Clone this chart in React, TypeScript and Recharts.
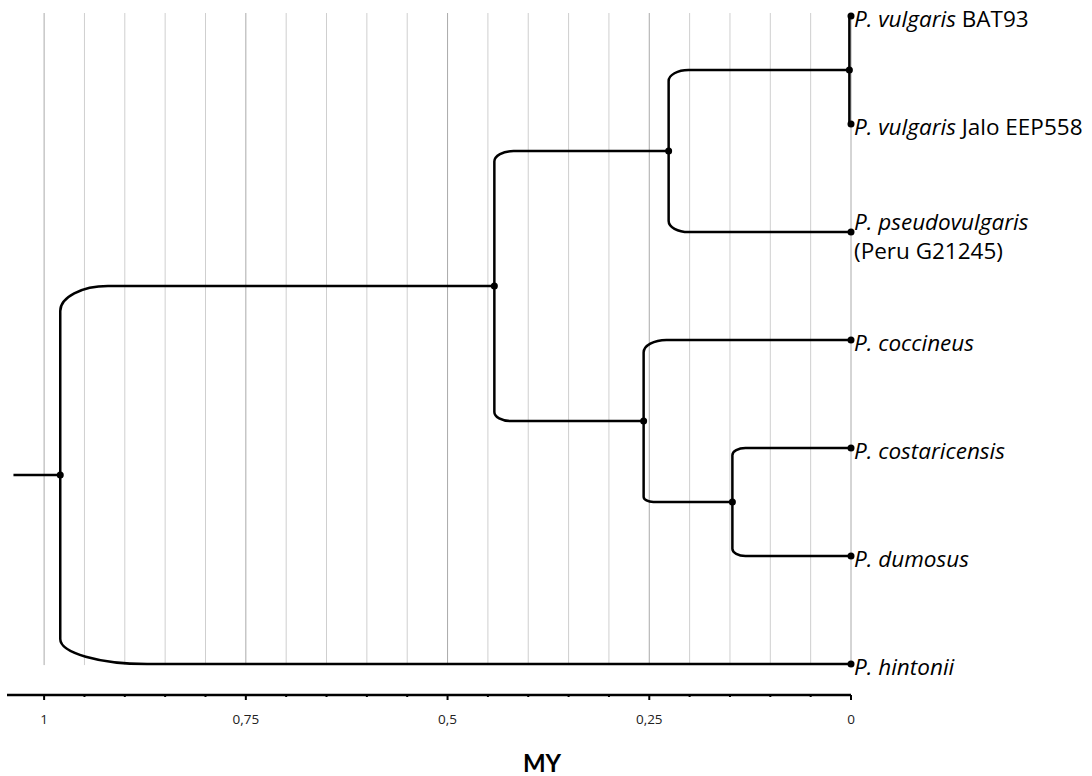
import React from 'react';
import { ComposedChart, Line, Scatter, XAxis, YAxis, ReferenceLine } from 'recharts';

const FONT = 'Lato, "Open Sans", sans-serif';
const LABEL_FONT = '"Open Sans", Lato, sans-serif';

// tips (age 0 = present), row = vertical slot from the top
const tipIds = ['t0', 't1', 't2', 't3', 't4', 't5', 't6'];
const tipNames = ['P. vulgaris', 'P. vulgaris', 'P. pseudovulgaris', 'P. coccineus', 'P. costaricensis', 'P. dumosus', 'P. hintonii'];
const tipSuffix = [' BAT93', ' Jalo EEP558', '', '', '', '', ''];
const tipSecondLine = ['', '', '(Peru G21245)', '', '', '', ''];
const tipAges = [0, 0, 0, 0, 0, 0, 0];
const tipRows = [0, 1, 2, 3, 4, 5, 6];

// internal nodes, age in MY
const nodeIds = ['root', 'A', 'B', 'C', 'D', 'E'];
const nodeAges = [0.98, 0.442, 0.226, 0.002, 0.257, 0.147];
const nodeRows = [4.25, 2.5, 1.25, 0.5, 3.75, 4.5];

const edgeParents = ['root', 'root', 'A', 'A', 'B', 'B', 'C', 'C', 'D', 'D', 'E', 'E'];
const edgeChildren = ['A', 't6', 'B', 'D', 'C', 't2', 't0', 't1', 't3', 'E', 't4', 't5'];

const rootStubAge = 1.038;
const axisMax = 1.046;
const rowTop = -0.028;
const rowBottom = 6.287;
const gridBottom = 6.01;

const majorTicks = [1, 0.75, 0.5, 0.25, 0];
const gridValues = [1, 0.95, 0.9, 0.85, 0.8, 0.75, 0.7, 0.65, 0.6, 0.55, 0.5, 0.45, 0.4, 0.35, 0.3, 0.25, 0.2, 0.15, 0.1, 0.05, 0];

const pos: Record<string, { x: number; y: number }> = {};
tipIds.forEach((id, i) => (pos[id] = { x: tipAges[i], y: tipRows[i] }));
nodeIds.forEach((id, i) => (pos[id] = { x: nodeAges[i], y: nodeRows[i] }));

const edges = edgeParents.map((p, i) => {
  const a = pos[p];
  const b = pos[edgeChildren[i]];
  return [
    { x: a.x, y: a.y },
    { x: a.x, y: b.y },
    { x: b.x, y: b.y },
  ];
});

const stub = [
  { x: rootStubAge, y: pos.root.y },
  { x: pos.root.x, y: pos.root.y },
];

const tipData = tipIds.map((id, i) => ({
  x: tipAges[i],
  y: tipRows[i],
  name: tipNames[i],
  suffix: tipSuffix[i],
  second: tipSecondLine[i],
}));
const nodeData = nodeIds.map((id, i) => ({ x: nodeAges[i], y: nodeRows[i] }));

// elbow with a soft rounded corner, like the tree drawing tool
const roundedElbow = (context: any) => {
  let pts: number[][] = [];
  return {
    areaStart() {},
    areaEnd() {},
    lineStart() {
      pts = [];
    },
    point(x: number, y: number) {
      pts.push([+x, +y]);
    },
    lineEnd() {
      if (!pts.length) return;
      context.moveTo(pts[0][0], pts[0][1]);
      if (pts.length < 3) {
        for (let i = 1; i < pts.length; i++) context.lineTo(pts[i][0], pts[i][1]);
        return;
      }
      const [p0, p1, p2] = pts;
      const len = Math.abs(p2[0] - p1[0]);
      const dy = Math.abs(p1[1] - p0[1]);
      const h = len * 0.11;
      const v = Math.min(25, h * 0.55, dy);
      const sy = Math.sign(p1[1] - p0[1]) || 1;
      const sx = Math.sign(p2[0] - p1[0]) || 1;
      const k = 0.5523;
      context.lineTo(p1[0], p1[1] - sy * v);
      context.bezierCurveTo(
        p1[0],
        p1[1] - sy * v * (1 - k),
        p1[0] + sx * h * (1 - k),
        p1[1],
        p1[0] + sx * h,
        p1[1]
      );
      context.lineTo(p2[0], p2[1]);
    },
  };
};

const NodeDot = (props: any) => <circle cx={props.cx} cy={props.cy} r={3.5} fill="#000" />;

const TipShape = (props: any) => {
  const { cx, cy, payload } = props;
  const two = !!payload.second;
  return (
    <g>
      <circle cx={cx} cy={cy} r={3.5} fill="#000" />
      <text x={cx + 3} y={two ? cy - 2 : cy + 11} fontFamily={LABEL_FONT} fontSize={22.5} fill="#000">
        <tspan fontStyle="italic">{payload.name}</tspan>
        {payload.suffix ? <tspan>{payload.suffix}</tspan> : null}
      </text>
      {two ? (
        <text x={cx + 3} y={cy + 27} fontFamily={LABEL_FONT} fontSize={22.5} fill="#000">
          {payload.second}
        </text>
      ) : null}
    </g>
  );
};

const AxisTick = (props: any) => {
  const { x, y, payload } = props;
  const major = majorTicks.includes(payload.value);
  return (
    <g>
      <line x1={x} x2={x} y1={y} y2={y + (major ? 5 : 2)} stroke="#000" strokeWidth={2} />
      {major ? (
        <text x={x} y={y + 29} textAnchor="middle" fontFamily={LABEL_FONT} fontSize={13.5} fill="#222">
          {String(payload.value).replace('.', ',')}
        </text>
      ) : null}
    </g>
  );
};

export default function App() {
  return (
    <div style={{ position: 'absolute', left: 0, top: 0, width: 1092, height: 776, background: '#fff' }}>
      <ComposedChart width={1092} height={776} margin={{ top: 13, right: 241, bottom: 31, left: 7 }}>
        <XAxis
          dataKey="x"
          type="number"
          domain={[0, axisMax]}
          reversed
          ticks={gridValues}
          interval={0}
          height={50}
          tickSize={0}
          tickMargin={0}
          tickLine={false}
          axisLine={{ stroke: '#000', strokeWidth: 2.5 }}
          tick={<AxisTick />}
          label={{
            content: () => (
              <text x={542} y={772} textAnchor="middle" fontFamily={FONT} fontWeight="bold" fontSize={24} fill="#000">
                MY
              </text>
            ),
          }}
        />
        <YAxis dataKey="y" type="number" domain={[rowTop, rowBottom]} reversed hide />
        {gridValues.map((v) => (
          <ReferenceLine
            key={v}
            segment={[
              { x: v, y: rowTop },
              { x: v, y: gridBottom },
            ]}
            stroke={majorTicks.includes(v) ? '#aaaaaa' : '#cfcfcf'}
            strokeWidth={1}
          />
        ))}
        {edges.map((d, i) => (
          <Line
            key={i}
            data={d}
            dataKey="y"
            type={roundedElbow as any}
            stroke="#000"
            strokeWidth={2.5}
            dot={false}
            activeDot={false}
            isAnimationActive={false}
          />
        ))}
        <Line data={stub} dataKey="y" type="linear" stroke="#000" strokeWidth={2.5} dot={false} activeDot={false} isAnimationActive={false} />
        <Scatter data={nodeData} dataKey="y" shape={<NodeDot />} isAnimationActive={false} />
        <Scatter data={tipData} dataKey="y" shape={<TipShape />} isAnimationActive={false} />
      </ComposedChart>
    </div>
  );
}
